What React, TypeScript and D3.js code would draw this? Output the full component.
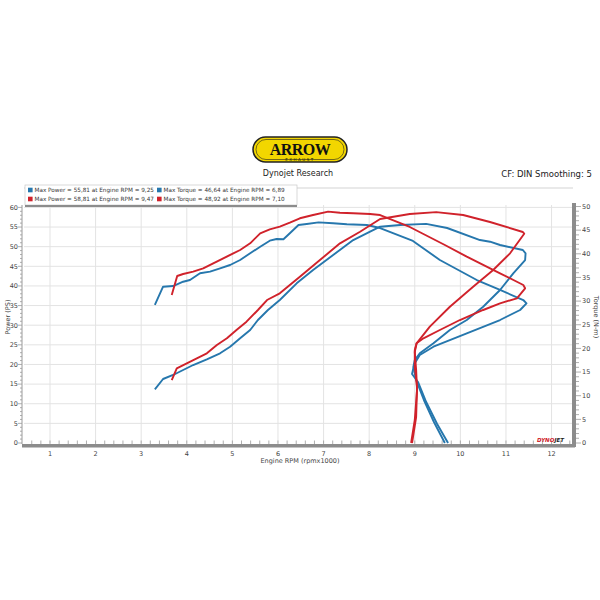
import React from "react";
import * as d3 from "d3";

const rpmTicks = [1, 2, 3, 4, 5, 6, 7, 8, 9, 10, 11, 12];
const powerTicks = [0, 5, 10, 15, 20, 25, 30, 35, 40, 45, 50, 55, 60];
const torqueTicks = [0, 5, 10, 15, 20, 25, 30, 35, 40, 45, 50];

const legendRows = [
  { color: "#2677ad", power: "Max Power = 55,81 at Engine RPM = 9,25", torque: "Max Torque = 46,64 at Engine RPM = 6,89" },
  { color: "#d0222b", power: "Max Power = 58,81 at Engine RPM = 9,47", torque: "Max Torque = 48,92 at Engine RPM = 7,10" },
];

// [rpm x1000, PS]
const bluePower: [number, number][] = [
  [3.30, 13.67], [3.48, 16.3], [3.70, 17.32], [3.92, 18.59], [4.14, 19.86], [4.44, 21.31], [4.73, 22.84],
  [4.95, 24.52], [5.17, 26.66], [5.39, 28.78], [5.56, 31.32], [5.78, 33.87], [6.04, 36.41], [6.41, 40.67],
  [6.77, 44.05], [7.21, 47.87], [7.65, 51.69], [8.02, 53.81], [8.24, 55.08], [8.68, 55.51], [9.25, 55.81],
  [9.71, 54.75], [10.43, 51.69], [10.65, 51.26], [10.87, 50.42], [11.37, 49.15], [11.43, 48.31],
  [11.42, 46.6], [11.16, 43.21], [10.87, 38.96], [10.5, 34.71], [10.14, 31.32], [9.77, 28.78], [9.41, 25.39],
  [9.11, 22.84], [9.0, 21.14], [8.97, 19.43], [9.03, 16.04], [9.2, 10.95], [9.42, 5.35], [9.66, 0],
];

// [rpm x1000, N-m]
const blueTorque: [number, number][] = [
  [3.30, 29.18], [3.48, 33.04], [3.70, 33.19], [3.92, 34.1], [4.07, 34.46], [4.29, 35.88], [4.51, 36.22],
  [4.73, 36.93], [4.95, 37.63], [5.17, 38.69], [5.39, 40.11], [5.61, 41.5], [5.82, 42.77], [5.97, 43.13],
  [6.12, 43.07], [6.26, 44.33], [6.45, 46.09], [6.63, 46.3], [6.89, 46.64], [7.21, 46.45], [7.51, 46.24],
  [7.95, 46.09], [8.24, 45.45], [8.96, 42.71], [9.55, 38.69], [10.36, 34.46], [10.87, 32.35], [11.38, 30.23],
  [11.45, 29.53], [11.31, 28.12], [10.87, 26.0], [10.14, 23.19], [9.41, 20.36], [9.11, 18.6], [9.0, 16.85],
  [8.96, 15.43], [8.94, 14.59], [9.07, 12.9], [9.25, 8.67], [9.49, 4.02], [9.73, 0],
];

const redPower: [number, number][] = [
  [3.67, 16.04], [3.78, 19.02], [4.0, 20.3], [4.22, 21.57], [4.44, 22.84], [4.66, 24.96], [4.88, 26.66],
  [5.09, 28.78], [5.31, 30.89], [5.56, 33.87], [5.76, 36.41], [6.04, 38.12], [6.48, 42.35], [6.92, 46.6],
  [7.36, 50.85], [7.8, 53.81], [8.24, 57.04], [8.89, 58.31], [9.47, 58.81], [10.06, 58.06], [10.65, 56.28],
  [11.37, 53.73], [11.4, 53.3], [11.09, 48.31], [10.72, 44.05], [10.28, 39.8], [9.77, 34.71], [9.33, 29.62],
  [9.04, 25.39], [9.0, 23.68], [9.0, 19.35], [9.05, 14.26], [9.03, 6.62], [8.94, 0],
];

const redTorque: [number, number][] = [
  [3.67, 31.29], [3.79, 35.31], [3.92, 35.73], [4.14, 36.22], [4.36, 36.93], [4.58, 37.99], [4.8, 39.05],
  [5.02, 40.11], [5.17, 40.8], [5.39, 42.22], [5.61, 44.33], [5.82, 45.18], [6.04, 45.73], [6.26, 46.58],
  [6.48, 47.51], [6.77, 48.2], [7.1, 48.92], [7.36, 48.69], [7.65, 48.56], [8.02, 48.41], [8.24, 48.2],
  [8.89, 45.67], [9.66, 41.86], [10.14, 39.39], [10.87, 35.88], [11.38, 33.4], [11.42, 32.71], [11.24, 30.59],
  [10.87, 29.53], [10.5, 28.12], [9.99, 26.0], [9.55, 23.89], [9.19, 22.14], [9.04, 21.08], [9.0, 19.24],
  [9.03, 15.43], [9.05, 11.21], [9.0, 4.86], [8.92, 0],
];

const BLUE = "#2677ad";
const RED = "#d0222b";
const FONT = "'DejaVu Sans', Verdana, sans-serif";

export default function App() {
  const left = 24, right = 573, top = 205, bottom = 443;
  const x = d3.scaleLinear().domain([0.43, 12.47]).range([left, right]);
  const yP = d3.scaleLinear().domain([0, 60]).range([bottom, 207.4]);
  const yT = d3.scaleLinear().domain([0, 50]).range([bottom, 206.5]);

  const lineP = d3.line<[number, number]>().x((d) => x(d[0])).y((d) => yP(d[1]));
  const lineT = d3.line<[number, number]>().x((d) => x(d[0])).y((d) => yT(d[1]));

  const minorX = d3.range(0.6, 12.41, 0.2);
  const minorP = d3.range(0, 61, 1);
  const minorT = d3.range(0, 51, 1);

  return (
    <svg width={600} height={600} style={{ position: "absolute", left: 0, top: 0, background: "#fff" }}>
      <rect x={0} y={0} width={600} height={600} fill="#fff" />
      {/* Logo */}
      <g>
        <rect x={253} y={137} width={94} height={25} rx={12.5} fill="#f2d600" stroke="#222" strokeWidth={1.5} />
        <rect x={256} y={139.5} width={88} height={20} rx={10} fill="none" stroke="#222" strokeWidth={0.6} />
        <text x={300} y={155} textAnchor="middle" fontFamily="'Liberation Serif', serif" fontWeight="bold" fontSize={16} fill="#111" letterSpacing={-0.5}>
          ARROW
        </text>
        <text x={300} y={160.5} textAnchor="middle" fontFamily={FONT} fontSize={4} fill="#111" letterSpacing={1.5}>
          EXHAUST
        </text>
        <text x={298} y={176} textAnchor="middle" fontFamily={FONT} fontSize={8} fill="#222">
          Dynojet Research
        </text>
        <text x={592} y={177} textAnchor="end" fontFamily={FONT} fontSize={8.5} fill="#222">
          CF: DIN Smoothing: 5
        </text>
      </g>

      {/* frame top line */}
      <line x1={left} x2={right} y1={188} y2={188} stroke="#c8c8c8" strokeWidth={0.8} />

      {/* grid */}
      {rpmTicks.map((t) => (
        <line key={"gx" + t} x1={x(t)} x2={x(t)} y1={top} y2={bottom} stroke="#e3e3e3" strokeWidth={1} />
      ))}
      {powerTicks.filter((t) => t > 0).map((t) => (
        <line key={"gy" + t} x1={left} x2={right} y1={yP(t)} y2={yP(t)} stroke="#e3e3e3" strokeWidth={1} />
      ))}

      {/* left axis */}
      <line x1={left - 2} x2={left - 2} y1={top} y2={bottom + 1} stroke="#9a9a9a" strokeWidth={1} />
      {minorP.map((t) => (
        <line key={"mp" + t} x1={left - 2} x2={left - (t % 5 === 0 ? 6 : 4)} y1={yP(t)} y2={yP(t)} stroke="#9a9a9a" strokeWidth={0.8} />
      ))}
      {powerTicks.map((t) => (
        <text key={"lp" + t} x={left - 6} y={yP(t) + 2.3} textAnchor="end" fontFamily={FONT} fontSize={6.5} fill="#444">
          {t}
        </text>
      ))}
      <text transform="translate(10,317) rotate(-90)" textAnchor="middle" fontFamily={FONT} fontSize={6.5} fill="#444">
        Power (PS)
      </text>

      {/* bottom axis */}
      <rect x={left - 2} y={444} width={right - left + 4} height={3.5} fill="#8c8c8c" />
      {minorX.map((t) => (
        <line key={"mx" + t} x1={x(t)} x2={x(t)} y1={444} y2={440.5} stroke="#9a9a9a" strokeWidth={0.8} />
      ))}
      {rpmTicks.map((t) => (
        <text key={"lx" + t} x={x(t)} y={456} textAnchor="middle" fontFamily={FONT} fontSize={6.5} fill="#444">
          {t}
        </text>
      ))}
      <text x={300} y={463} textAnchor="middle" fontFamily={FONT} fontSize={6.5} fill="#444">
        Engine RPM (rpmx1000)
      </text>

      {/* right axis */}
      <rect x={right - 1} y={top - 2} width={4} height={bottom - top + 6} fill="#8c8c8c" />
      {minorT.map((t) => (
        <line key={"mt" + t} x1={right + 3} x2={right + (t % 5 === 0 ? 8 : 6)} y1={yT(t)} y2={yT(t)} stroke="#9a9a9a" strokeWidth={0.8} />
      ))}
      {torqueTicks.map((t) => (
        <text key={"lt" + t} x={right + 9} y={yT(t) + 2.3} textAnchor="start" fontFamily={FONT} fontSize={6.5} fill="#444">
          {t}
        </text>
      ))}
      <text transform="translate(594,317) rotate(90)" textAnchor="middle" fontFamily={FONT} fontSize={6.5} fill="#444">
        Torque (N-m)
      </text>

      {/* curves */}
      <path d={lineT(blueTorque) ?? ""} fill="none" stroke={BLUE} strokeWidth={1.9} strokeLinejoin="round" />
      <path d={lineP(bluePower) ?? ""} fill="none" stroke={BLUE} strokeWidth={1.9} strokeLinejoin="round" />
      <path d={lineT(redTorque) ?? ""} fill="none" stroke={RED} strokeWidth={1.9} strokeLinejoin="round" />
      <path d={lineP(redPower) ?? ""} fill="none" stroke={RED} strokeWidth={1.9} strokeLinejoin="round" />

      {/* dynojet mark */}
      <text x={537} y={442} fontFamily={FONT} fontSize={5.5} fontStyle="italic" fontWeight="bold">
        <tspan fill="#d0222b">DYNO</tspan>
        <tspan fill="#222">JET</tspan>
      </text>

      {/* legend */}
      <rect x={25} y={185} width={272} height={20} fill="#fff" stroke="#c8c8c8" strokeWidth={0.7} />
      <line x1={25} x2={297} y1={206} y2={206} stroke="#8c8c8c" strokeWidth={2} />
      {legendRows.map((r, i) => (
        <g key={"lg" + i}>
          <rect x={28} y={187.7 + i * 9} width={4.6} height={4.6} fill={r.color} />
          <text x={34.5} y={192.2 + i * 9} fontFamily={FONT} fontSize={5.7} fill="#333">
            {r.power}
          </text>
          <rect x={157} y={187.7 + i * 9} width={4.6} height={4.6} fill={r.color} />
          <text x={163.5} y={192.2 + i * 9} fontFamily={FONT} fontSize={5.7} fill="#333">
            {r.torque}
          </text>
        </g>
      ))}
    </svg>
  );
}
